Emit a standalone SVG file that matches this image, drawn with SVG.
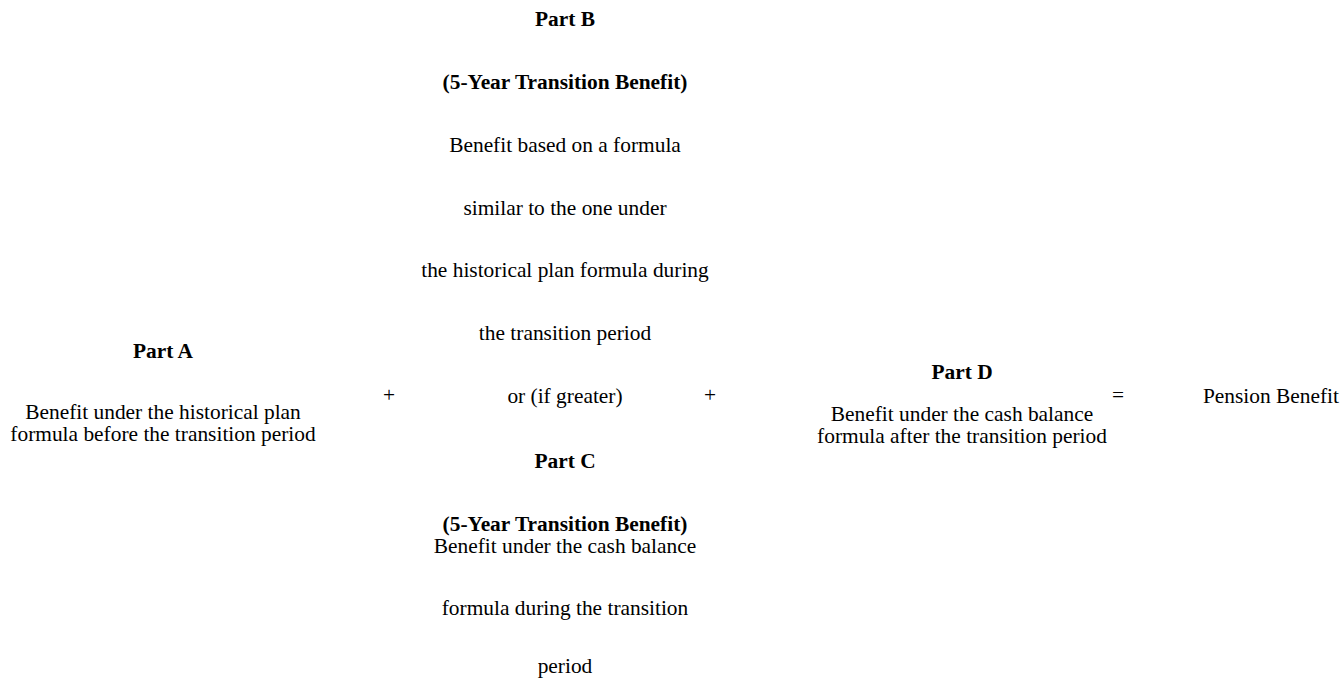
<svg xmlns="http://www.w3.org/2000/svg" width="1344" height="679" viewBox="0 0 1344 679">
<style>
text{font-family:"Liberation Serif","Times New Roman",serif;font-size:21.4px;fill:#000;text-anchor:middle}
.b{font-weight:bold}
.e{text-anchor:end}
</style>
<rect width="1344" height="679" fill="#fff"/>
<g id="partA">
<text class="b" x="163" y="358">Part A</text>
<text x="163" y="419">Benefit under the historical plan</text>
<text x="163" y="441">formula before the transition period</text>
</g>
<g id="partB">
<text class="b" x="565" y="26">Part B</text>
<text class="b" x="565" y="89">(5-Year Transition Benefit)</text>
<text x="565" y="152">Benefit based on a formula</text>
<text x="565" y="215">similar to the one under</text>
<text x="565" y="277">the historical plan formula during</text>
<text x="565" y="340">the transition period</text>
</g>
<g id="or">
<text x="565" y="403">or (if greater)</text>
</g>
<g id="partC">
<text class="b" x="565" y="468">Part C</text>
<text class="b" x="565" y="531">(5-Year Transition Benefit)</text>
<text x="565" y="553">Benefit under the cash balance</text>
<text x="565" y="615">formula during the transition</text>
<text x="565" y="673">period</text>
</g>
<g id="partD">
<text class="b" x="962" y="379">Part D</text>
<text x="962" y="421">Benefit under the cash balance</text>
<text x="962" y="443">formula after the transition period</text>
</g>
<g id="result">
<text class="e" x="1339" y="403">Pension Benefit</text>
</g>
<g id="connectors">
<text x="389" y="402">+</text>
<text x="710" y="402">+</text>
<text x="1118" y="402">=</text>
</g>
</svg>
